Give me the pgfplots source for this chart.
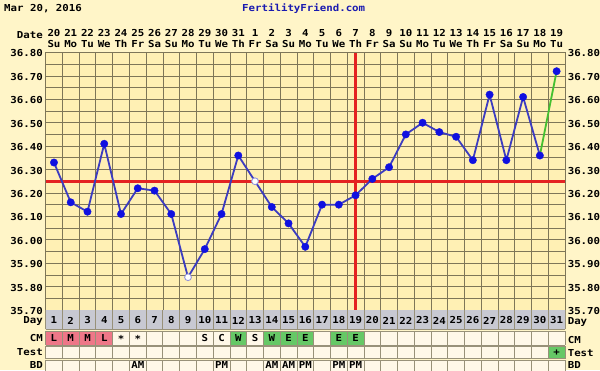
\documentclass[border=0pt]{standalone}
\usepackage{pgfplots}
\pgfplotsset{compat=1.18}
\usepackage{fontspec}
\newfontfamily\pix[FakeStretch=1.12]{DejaVu Sans Mono}
\newcommand\pf{\pix\bfseries\fontsize{9.6}{10.5}\selectfont}
\definecolor{outerbg}{HTML}{FFF5C8}
\definecolor{plotbg}{HTML}{FFF0B4}
\definecolor{gridc}{HTML}{7E7658}
\definecolor{coverred}{HTML}{E42222}
\definecolor{dataline}{HTML}{3C3CC0}
\definecolor{datamark}{HTML}{1010E0}
\definecolor{lastgreen}{HTML}{44C030}
\definecolor{daygray}{HTML}{C8C9D2}
\definecolor{cream}{HTML}{FFF8E8}
\definecolor{cmpink}{HTML}{EE7788}
\definecolor{cmgreen}{HTML}{66C866}
\definecolor{ffblue}{HTML}{1A1AB0}
\begin{document}
\begin{tikzpicture}[x=1pt,y=1pt]
\useasboundingbox (0,0) rectangle (600,370);
\fill[outerbg] (0,0) rectangle (600,370);
\node[font=\pf, anchor=west, inner sep=0pt] at (4,361) {Mar 20, 2016};
\node[font=\pf, anchor=west, inner sep=0pt, text=ffblue] at (242,361) {FertilityFriend.com};
\node[font=\pf, anchor=east, inner sep=0pt] at (43,334.5) {Date};
% main temperature axis
\begin{axis}[
  at={(45.6pt,60pt)}, anchor=south west, scale only axis,
  width=519.4pt, height=257.5pt,
  xmin=0.5, xmax=31.5, ymin=35.70, ymax=36.80,
  axis background/.style={fill=plotbg},
  axis line style={draw=gridc, line width=0.8pt},
  xtick={1,...,31},
  xticklabel pos=upper,
  xticklabels={{20\\Su},{21\\Mo},{22\\Tu},{23\\We},{24\\Th},{25\\Fr},{26\\Sa},{27\\Su},{28\\Mo},{29\\Tu},{30\\We},{31\\Th},{1\\Fr},{2\\Sa},{3\\Su},{4\\Mo},{5\\Tu},{6\\We},{7\\Th},{8\\Fr},{9\\Sa},{10\\Su},{11\\Mo},{12\\Tu},{13\\We},{14\\Th},{15\\Fr},{16\\Sa},{17\\Su},{18\\Mo},{19\\Tu}},
  xticklabel style={font=\pf, align=center, inner sep=0pt, yshift=5pt},
  minor xtick={0.5,1.5,...,31.5},
  ytick={35.70,35.80,35.90,36.00,36.10,36.20,36.30,36.40,36.50,36.60,36.70,36.80},
  yticklabels={35.70,35.80,35.90,36.00,36.10,36.20,36.30,36.40,36.50,36.60,36.70,36.80},
  yticklabel style={font=\pf, inner sep=0pt, xshift=-2.6pt, yshift=-1pt},
  minor ytick={35.75,35.85,35.95,36.05,36.15,36.25,36.35,36.45,36.55,36.65,36.75},
  xmajorgrids=false, xminorgrids=true, ymajorgrids=true, yminorgrids=true,
  major grid style={draw=gridc, line width=0.75pt},
  minor grid style={draw=gridc, line width=0.75pt},
  major tick length=0pt, minor tick length=0pt,
  clip=false,
]
\addplot[coverred, line width=3pt] coordinates {(0.5,36.25) (31.5,36.25)};
\addplot[coverred, line width=2.2pt] coordinates {(19,35.70) (19,36.80)};
\addplot[dataline, line width=1.8pt] coordinates {
(1,36.33) (2,36.16) (3,36.12) (4,36.41) (5,36.11) (6,36.22) (7,36.21) (8,36.11)
(9,35.84) (10,35.96) (11,36.11) (12,36.36) (13,36.25) (14,36.14) (15,36.07) (16,35.97)
(17,36.15) (18,36.15) (19,36.19) (20,36.26) (21,36.31) (22,36.45) (23,36.50) (24,36.46)
(25,36.44) (26,36.34) (27,36.62) (28,36.34) (29,36.61) (30,36.36)};
\addplot[lastgreen, line width=1.8pt] coordinates {(30,36.36) (31,36.72)};
\addplot[only marks, mark=*, mark size=3.7pt, mark options={fill=datamark, draw=datamark}] coordinates {
(1,36.33) (2,36.16) (3,36.12) (4,36.41) (5,36.11) (6,36.22) (7,36.21) (8,36.11)
(10,35.96) (11,36.11) (12,36.36) (14,36.14) (15,36.07) (16,35.97)
(17,36.15) (18,36.15) (19,36.19) (20,36.26) (21,36.31) (22,36.45) (23,36.50) (24,36.46)
(25,36.44) (26,36.34) (27,36.62) (28,36.34) (29,36.61) (30,36.36) (31,36.72)};
\addplot[only marks, mark=*, mark size=3.4pt, mark options={fill=white, draw=dataline!55, line width=0.9pt}] coordinates {(9,35.84) (13,36.25)};
\end{axis}
% right-hand temperature labels
\begin{axis}[
  at={(45.6pt,60pt)}, anchor=south west, scale only axis,
  width=519.4pt, height=257.5pt,
  xmin=0.5, xmax=31.5, ymin=35.70, ymax=36.80,
  axis line style={draw=none},
  xtick=\empty,
  ytick={35.70,35.80,35.90,36.00,36.10,36.20,36.30,36.40,36.50,36.60,36.70,36.80},
  yticklabels={35.70,35.80,35.90,36.00,36.10,36.20,36.30,36.40,36.50,36.60,36.70,36.80},
  yticklabel pos=right,
  yticklabel style={font=\pf, inner sep=0pt, xshift=2.6pt, yshift=-1pt},
  major tick length=0pt,
]
\addplot[draw=none] coordinates {(1,36)};
\end{axis}
% chart table below
\begin{axis}[
  at={(45.6pt,0pt)}, anchor=south west, scale only axis,
  width=519.4pt, height=60pt,
  xmin=0.5, xmax=31.5, ymin=0, ymax=60,
  hide axis, clip=false,
]
\addplot[draw=none] coordinates {(1,30)};
% Day row
\fill[daygray] (axis cs:0.5,40.5) rectangle (axis cs:31.5,59.5);
% CM row
\fill[cream] (axis cs:0.5,25) rectangle (axis cs:31.5,38.5);
\fill[cmpink] (axis cs:0.5,25) rectangle (axis cs:4.5,38.5);
\fill[cmgreen] (axis cs:11.5,25) rectangle (axis cs:12.5,38.5);
\fill[cmgreen] (axis cs:13.5,25) rectangle (axis cs:16.5,38.5);
\fill[cmgreen] (axis cs:17.5,25) rectangle (axis cs:19.5,38.5);
% Test row
\fill[cream] (axis cs:0.5,11.5) rectangle (axis cs:31.5,24);
\fill[cmgreen] (axis cs:30.5,11.5) rectangle (axis cs:31.5,24);
% BD row
\fill[cream] (axis cs:0.5,-4) rectangle (axis cs:31.5,10);
% separators
\pgfplotsinvokeforeach{0.5,1.5,...,31.5}{
  \draw[gridc!80, line width=0.8pt] (axis cs:#1,40.5) -- (axis cs:#1,59.5);
  \draw[gridc!80, line width=0.8pt] (axis cs:#1,25) -- (axis cs:#1,38.5);
  \draw[gridc!80, line width=0.8pt] (axis cs:#1,11.5) -- (axis cs:#1,24);
  \draw[gridc!80, line width=0.8pt] (axis cs:#1,-4) -- (axis cs:#1,10);
}
\draw[gridc!80, line width=0.8pt] (axis cs:0.5,40.5) -- (axis cs:31.5,40.5);
\draw[gridc!80, line width=0.8pt] (axis cs:0.5,38.5) -- (axis cs:31.5,38.5);
\draw[gridc!80, line width=0.8pt] (axis cs:0.5,25) -- (axis cs:31.5,25);
\draw[gridc!80, line width=0.8pt] (axis cs:0.5,24) -- (axis cs:31.5,24);
\draw[gridc!80, line width=0.8pt] (axis cs:0.5,11.5) -- (axis cs:31.5,11.5);
\draw[gridc!80, line width=0.8pt] (axis cs:0.5,10) -- (axis cs:31.5,10);
% day numbers
\pgfplotsinvokeforeach{1,...,31}{
  \node[font=\pf, inner sep=0pt] at (axis cs:#1,49.5) {#1};
}
% CM entries
\node[font=\pf, inner sep=0pt] at (axis cs:1,31.5) {L};
\node[font=\pf, inner sep=0pt] at (axis cs:2,31.5) {M};
\node[font=\pf, inner sep=0pt] at (axis cs:3,31.5) {M};
\node[font=\pf, inner sep=0pt] at (axis cs:4,31.5) {L};
\node[font=\pf, inner sep=0pt] at (axis cs:5,31.5) {*};
\node[font=\pf, inner sep=0pt] at (axis cs:6,31.5) {*};
\node[font=\pf, inner sep=0pt] at (axis cs:10,31.5) {S};
\node[font=\pf, inner sep=0pt] at (axis cs:11,31.5) {C};
\node[font=\pf, inner sep=0pt] at (axis cs:12,31.5) {W};
\node[font=\pf, inner sep=0pt] at (axis cs:13,31.5) {S};
\node[font=\pf, inner sep=0pt] at (axis cs:14,31.5) {W};
\node[font=\pf, inner sep=0pt] at (axis cs:15,31.5) {E};
\node[font=\pf, inner sep=0pt] at (axis cs:16,31.5) {E};
\node[font=\pf, inner sep=0pt] at (axis cs:18,31.5) {E};
\node[font=\pf, inner sep=0pt] at (axis cs:19,31.5) {E};
% Test entry
\node[font=\pf, inner sep=0pt] at (axis cs:31,17.5) {+};
% BD entries
\node[font=\pf, inner sep=0pt] at (axis cs:6,5) {AM};
\node[font=\pf, inner sep=0pt] at (axis cs:11,5) {PM};
\node[font=\pf, inner sep=0pt] at (axis cs:14,5) {AM};
\node[font=\pf, inner sep=0pt] at (axis cs:15,5) {AM};
\node[font=\pf, inner sep=0pt] at (axis cs:16,5) {PM};
\node[font=\pf, inner sep=0pt] at (axis cs:18,5) {PM};
\node[font=\pf, inner sep=0pt] at (axis cs:19,5) {PM};
% row labels
\node[font=\pf, inner sep=0pt, anchor=east] at ([xshift=-2.6pt]axis cs:0.5,49.5) {Day};
\node[font=\pf, inner sep=0pt, anchor=east] at ([xshift=-2.6pt]axis cs:0.5,31.5) {CM};
\node[font=\pf, inner sep=0pt, anchor=east] at ([xshift=-2.6pt]axis cs:0.5,17.5) {Test};
\node[font=\pf, inner sep=0pt, anchor=east] at ([xshift=-2.6pt]axis cs:0.5,5) {BD};
\node[font=\pf, inner sep=0pt, anchor=west] at ([xshift=2.6pt]axis cs:31.5,48.5) {Day};
\node[font=\pf, inner sep=0pt, anchor=west] at ([xshift=2.6pt]axis cs:31.5,30) {CM};
\node[font=\pf, inner sep=0pt, anchor=west] at ([xshift=2.6pt]axis cs:31.5,16.5) {Test};
\node[font=\pf, inner sep=0pt, anchor=west] at ([xshift=2.6pt]axis cs:31.5,5) {BD};
\end{axis}
\end{tikzpicture}
\end{document}
